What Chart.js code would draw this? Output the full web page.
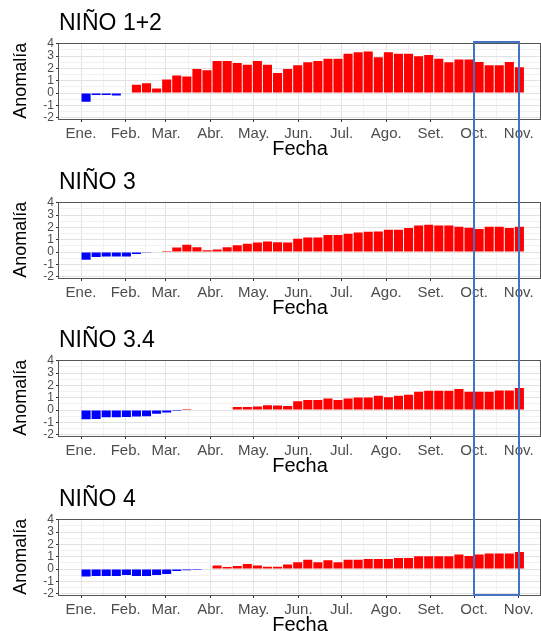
<!DOCTYPE html>
<html lang="es">
<head>
    <meta charset="UTF-8">
    <title>Anomalías semanales - Regiones Niño</title>
    <style>
        html, body {
            margin: 0;
            padding: 0;
            background-color: #ffffff;
            overflow: hidden;
        }
        #wrap {
            position: relative;
            width: 541px;
            height: 631px;
            overflow: hidden;
        }
        .panel {
            position: absolute;
            left: 0;
            width: 541px;
            height: 159px;
        }
        #box {
            position: absolute;
            border: 2.5px solid #4472C4;
            box-sizing: border-box;
            pointer-events: none;
        }
    </style>
</head>
<body>
    <div id="wrap">
        <div class="panel" style="top:0px"><canvas id="c0" width="541" height="159"></canvas></div>
        <div class="panel" style="top:159px"><canvas id="c1" width="541" height="159"></canvas></div>
        <div class="panel" style="top:317px"><canvas id="c2" width="541" height="159"></canvas></div>
        <div class="panel" style="top:476px"><canvas id="c3" width="541" height="159"></canvas></div>
        <div id="box"></div>
    </div>
    <script src="https://cdn.jsdelivr.net/npm/chart.js"></script>
    <script>
        // month labels and the day of year each month starts on
        const monthNames = ['Ene.', 'Feb.', 'Mar.', 'Abr.', 'May.', 'Jun.', 'Jul.', 'Ago.', 'Set.', 'Oct.', 'Nov.'];
        const monthStartDay = [0, 31, 59, 90, 120, 151, 181, 212, 243, 273, 304];

        // weekly periods (start date, MM-DD)
        const weekStarts = [
            '01-01', '01-08', '01-15', '01-22', '01-29',
            '02-05', '02-12', '02-19', '02-26',
            '03-05', '03-12', '03-19', '03-26',
            '04-02', '04-09', '04-16', '04-23', '04-30',
            '05-07', '05-14', '05-21', '05-28',
            '06-04', '06-11', '06-18', '06-25',
            '07-02', '07-09', '07-16', '07-23', '07-30',
            '08-06', '08-13', '08-20', '08-27',
            '09-03', '09-10', '09-17', '09-24',
            '10-01', '10-08', '10-15', '10-22', '10-29'
        ];

        const nino12 = [-0.7, -0.15, -0.15, -0.2, -0.04, 0.68, 0.8, 0.38, 1.1, 1.42, 1.35, 1.95, 1.85, 2.6, 2.6, 2.45, 2.3, 2.6, 2.3,
            1.63, 1.96, 2.26, 2.5, 2.6, 2.78, 2.78, 3.19, 3.32, 3.38, 2.92, 3.32, 3.19, 3.19, 3.0, 3.1, 2.78, 2.5, 2.72, 2.72, 2.53, 2.26, 2.26, 2.53, 2.1];
        const nino3 = [-0.62, -0.4, -0.35, -0.35, -0.35, -0.15, -0.05, 0, 0.1, 0.38, 0.6, 0.4, 0.15, 0.22, 0.4, 0.55, 0.68, 0.78, 0.86,
            0.8, 0.78, 1.08, 1.19, 1.19, 1.38, 1.38, 1.49, 1.6, 1.65, 1.68, 1.82, 1.82, 1.95, 2.17, 2.23, 2.17, 2.17, 2.06, 1.98, 1.87, 2.06, 2.06, 1.95, 2.06];
        const nino34 = [-0.74, -0.72, -0.58, -0.58, -0.55, -0.52, -0.5, -0.3, -0.19, -0.08, 0.1, 0, 0, 0, 0.05, 0.25, 0.25, 0.3, 0.4,
            0.38, 0.33, 0.72, 0.83, 0.83, 0.94, 0.83, 0.94, 1.02, 1.02, 1.16, 1.05, 1.16, 1.24, 1.49, 1.57, 1.57, 1.57, 1.71, 1.49, 1.49, 1.49, 1.6, 1.6, 1.79];
        const nino4 = [-0.6, -0.55, -0.55, -0.55, -0.48, -0.55, -0.55, -0.48, -0.4, -0.15, -0.1, -0.08, 0.05, 0.3, 0.17, 0.25, 0.42, 0.3, 0.2,
            0.2, 0.37, 0.56, 0.76, 0.56, 0.73, 0.56, 0.76, 0.76, 0.82, 0.82, 0.82, 0.9, 0.9, 1.04, 1.04, 1.04, 1.04, 1.18, 1.07, 1.18, 1.27, 1.27, 1.27, 1.38];

        const panelTitles = ['NIÑO 1+2', 'NIÑO 3', 'NIÑO 3.4', 'NIÑO 4'];
        const panelSeries = [nino12, nino3, nino34, nino4];
        const yTickValues = [-2, -1.5, -1, -0.5, 0, 0.5, 1, 1.5, 2, 2.5, 3, 3.5, 4];

        // highlighted period: Oct. to Nov.
        const boxFrom = 273;
        const boxTo = 304;

        const FONT = "'Liberation Sans', Arial, sans-serif";

        function weekCenter(s) {
            const m = parseInt(s.slice(0, 2), 10);
            const d = parseInt(s.slice(3), 10);
            return monthStartDay[m - 1] + d - 1 + 3.5;
        }

        // major ticks at month starts, minor ones halfway between
        const xTickValues = [];
        monthStartDay.forEach(function (v, i) {
            xTickValues.push(v);
            if (i < monthStartDay.length - 1) xTickValues.push((v + monthStartDay[i + 1]) / 2);
        });

        const panelBorder = {
            id: 'panelBorder',
            afterDraw(chart) {
                const a = chart.chartArea;
                const ctx = chart.ctx;
                ctx.save();
                ctx.strokeStyle = '#555555';
                ctx.lineWidth = 1;
                ctx.strokeRect(Math.round(a.left) - 0.5, Math.round(a.top) + 0.5,
                    Math.round(a.right - a.left), Math.round(a.bottom - a.top));
                ctx.restore();
            }
        };

        const charts = [];
        panelSeries.forEach(function (series, p) {
            const points = weekStarts.map(function (w, i) {
                return { x: weekCenter(w), y: series[i] };
            });
            const ctx = document.getElementById('c' + p).getContext('2d');
            charts.push(new Chart(ctx, {
                type: 'bar',
                data: {
                    datasets: [{
                        data: points,
                        backgroundColor: function (c) {
                            const v = c.raw ? c.raw.y : 0;
                            return v < 0 ? '#0000FF' : '#FF0000';
                        },
                        borderWidth: 0,
                        barPercentage: 0.9,
                        categoryPercentage: 1.0
                    }]
                },
                options: {
                    responsive: false,
                    animation: false,
                    layout: { padding: 0 },
                    plugins: {
                        legend: { display: false },
                        tooltip: { enabled: false },
                        title: {
                            display: true,
                            text: panelTitles[p],
                            align: 'start',
                            fullSize: false,
                            color: '#000000',
                            font: { family: FONT, size: 23, weight: 'normal', lineHeight: 1.2 },
                            padding: { top: 10, bottom: 5 }
                        }
                    },
                    scales: {
                        x: {
                            type: 'linear',
                            min: -15.3,
                            max: 319.5,
                            offset: false,
                            afterBuildTicks: function (scale) {
                                scale.ticks = xTickValues.map(function (v) { return { value: v }; });
                            },
                            afterFit: function (scale) { scale.height = 40; },
                            ticks: {
                                autoSkip: false,
                                maxRotation: 0,
                                padding: 3,
                                color: '#4D4D4D',
                                font: { family: FONT, size: 15 },
                                callback: function (v) {
                                    const i = monthStartDay.indexOf(v);
                                    return i >= 0 ? monthNames[i] : '';
                                }
                            },
                            grid: {
                                offset: false,
                                tickLength: 3,
                                color: function (c) {
                                    return monthStartDay.indexOf(c.tick ? c.tick.value : -1) >= 0 ? '#E2E2E2' : '#F1F1F1';
                                },
                                tickColor: function (c) {
                                    return monthStartDay.indexOf(c.tick ? c.tick.value : -1) >= 0 ? '#333333' : 'rgba(0,0,0,0)';
                                }
                            },
                            border: { display: false },
                            title: {
                                display: true,
                                text: 'Fecha',
                                color: '#000000',
                                font: { family: FONT, size: 20, lineHeight: 1 },
                                padding: { top: 0, bottom: 0 }
                            }
                        },
                        y: {
                            min: -2.1,
                            max: 4.1,
                            afterBuildTicks: function (scale) {
                                scale.ticks = yTickValues.map(function (v) { return { value: v }; });
                            },
                            afterFit: function (scale) { scale.width = 59; },
                            ticks: {
                                autoSkip: false,
                                padding: 2,
                                color: '#4D4D4D',
                                font: { family: FONT, size: 12 },
                                callback: function (v) {
                                    return Number.isInteger(v) ? String(v) : '';
                                }
                            },
                            grid: {
                                tickLength: 3,
                                color: function (c) {
                                    return Number.isInteger(c.tick ? c.tick.value : 0.5) ? '#E2E2E2' : '#F1F1F1';
                                },
                                tickColor: function (c) {
                                    return Number.isInteger(c.tick ? c.tick.value : 0.5) ? '#333333' : 'rgba(0,0,0,0)';
                                }
                            },
                            border: { display: false },
                            title: {
                                display: true,
                                text: 'Anomalía',
                                color: '#000000',
                                font: { family: FONT, size: 18, lineHeight: 1.2 },
                                padding: { top: 10, bottom: 0 }
                            }
                        }
                    }
                },
                plugins: [panelBorder]
            }));
        });

        // blue box over the Oct.-Nov. period, spanning all four panels
        const firstChart = charts[0];
        const lastChart = charts[charts.length - 1];
        const boxX1 = firstChart.scales.x.getPixelForValue(boxFrom);
        const boxX2 = firstChart.scales.x.getPixelForValue(boxTo);
        const boxTop = firstChart.chartArea.top;
        const boxBottom = 476 + lastChart.chartArea.bottom;
        const box = document.getElementById('box');
        box.style.left = (boxX1 - 1.25) + 'px';
        box.style.width = (boxX2 - boxX1 + 2.5) + 'px';
        box.style.top = (boxTop - 1.25) + 'px';
        box.style.height = (boxBottom - boxTop + 2.5) + 'px';
    </script>
</body>
</html>
